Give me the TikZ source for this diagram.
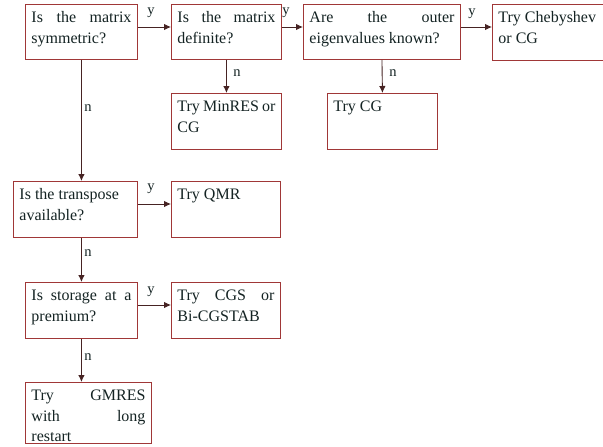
\documentclass[tikz,border=0pt]{standalone}
\usepackage{fontspec}
\setmainfont{Liberation Serif}
\usetikzlibrary{arrows.meta}
\definecolor{boxc}{RGB}{160,55,55}
\definecolor{linec}{RGB}{70,35,35}
\definecolor{txtc}{RGB}{20,35,35}
\tikzset{
  box/.style={draw=boxc, line width=0.9pt, inner xsep=6pt, inner ysep=4pt, anchor=north west,
    text=txtc, font=\fontsize{16}{20.5}\selectfont},
  conn/.style={draw=linec, line width=0.9pt, -{Latex[length=7pt,width=6.5pt]}},
  lab/.style={font=\fontsize{14.5}{14.5}\selectfont, text=txtc, inner sep=0pt}
}
\newcommand\bxtext[3]{\parbox[c][\dimexpr#2pt-8pt\relax][t]{\dimexpr#1pt-12pt\relax}{\strut#3}}
\begin{document}
\begin{tikzpicture}[x=1pt,y=-1pt]
\clip (0,0) rectangle (603,447);
\fill[white] (0,0) rectangle (603,447);
% boxes
\node[box] (A) at (25,4) {\bxtext{112}{55}{Is\hfill the\hfill matrix\\symmetric?}};
\node[box] (B) at (171,4) {\bxtext{110}{55}{Is\hfill the\hfill matrix\\definite?}};
\node[box] (C) at (303,4) {\bxtext{157}{55}{Are\hfill the\hfill outer\\eigenvalues known?}};
\node[box] (D) at (492,4) {\bxtext{130}{56}{Try Chebyshev\\or CG}};
\node[box] (M) at (171,93) {\bxtext{110}{56}{Try MinRES or\\CG}};
\node[box] (CG) at (327,93) {\bxtext{110}{56}{Try CG}};
\node[box] (T) at (13,181) {\bxtext{124}{56}{Is the transpose\\available?}};
\node[box] (Q) at (171,181) {\bxtext{109}{56}{Try QMR}};
\node[box] (S) at (25,282) {\bxtext{112}{56}{Is\hfill storage\hfill at\hfill a\\premium?}};
\node[box] (CGS) at (171,282) {\bxtext{109}{56}{Try\hfill CGS\hfill or\\Bi-CGSTAB}};
\node[box] (G) at (25,382) {\bxtext{126}{61}{Try\hfill GMRES\\with\hfill long\\restart}};
% connectors
\draw[conn] (A.east |- 0,27) -- (B.west |- 0,27);
\draw[conn] (B.east |- 0,27) -- (C.west |- 0,27);
\draw[conn] (C.east |- 0,27) -- (D.west |- 0,27);
\draw[conn] (B.south) -- (M.north);
\draw[conn] (C.south) -- (CG.north);
\draw[conn] (A.south) -- (A.south |- T.north);
\draw[conn] (T.east |- 0,204) -- (Q.west |- 0,204);
\draw[conn] (S.north |- T.south) -- (S.north);
\draw[conn] (S.east |- 0,305) -- (CGS.west |- 0,305);
\draw[conn] (S.south) -- (S.south |- G.north);
% labels
\node[lab] (y1) at (151,13) {y};
\node[lab] (y2) at (286,13) {y};
\node[lab] (y3) at (472,14) {y};
\node[lab] (y4) at (151,189) {y};
\node[lab] (y5) at (151,292) {y};
\node[lab] (n1) at (88,108) {n};
\node[lab] (n2) at (237,73) {n};
\node[lab] (n3) at (393,73) {n};
\node[lab] (n4) at (88,253) {n};
\node[lab] (n5) at (88,357) {n};
\end{tikzpicture}
\end{document}
